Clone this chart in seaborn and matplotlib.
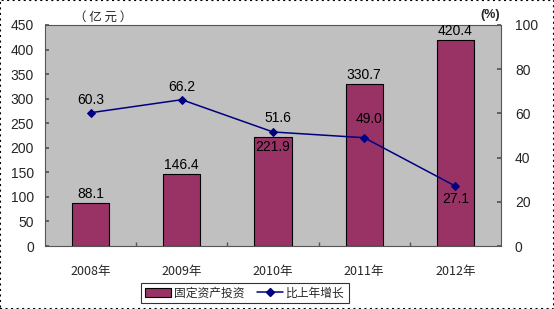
import matplotlib
matplotlib.use("Agg")
import matplotlib.pyplot as plt
import seaborn as sns
import pandas as pd
from matplotlib.lines import Line2D
from matplotlib.patches import Patch

years = ["2008年", "2009年", "2010年", "2011年", "2012年"]
invest = [88.1, 146.4, 221.9, 330.7, 420.4]
growth = [60.3, 66.2, 51.6, 49.0, 27.1]

sns.set_theme(style="white")
plt.rcParams['font.family'] = ['Liberation Sans', 'Noto Sans CJK SC', 'DejaVu Sans']

W, H = 554, 309
fig = plt.figure(figsize=(W/100, H/100), dpi=100)
ax = fig.add_axes([45/W, 1-246/H, 456/W, 221/H])
ax.set_facecolor("#C0C0C0")

df = pd.DataFrame({"year": years, "invest": invest})
sns.barplot(data=df, x="year", y="invest", ax=ax, color="#993366", width=0.41,
            edgecolor="black", linewidth=0.8, saturation=1)
ax.set_ylim(0, 450)
ax.set_xlim(-0.5, 4.5)
ax.set_yticks(range(0, 451, 50))
ax.set_xticks([0.5, 1.5, 2.5, 3.5], minor=True)
ax.set_xlabel("")
ax.set_ylabel("")
ax.tick_params(axis='y', labelsize=10, length=3, direction='in', color="#555555", pad=8, left=True)
ax.tick_params(axis='x', labelsize=9, length=0, pad=14)
ax.tick_params(axis='x', which='minor', length=3, direction='in', color="#555555", bottom=True)
for lab in ax.get_xticklabels():
    lab.set_family(['Noto Sans CJK SC'])
for s in ax.spines.values():
    s.set_color("#555555")
    s.set_linewidth(0.8)

# bar labels
for i, v in enumerate(invest):
    if i == 2:
        ax.text(i, v - 6, f"{v:.1f}", ha="center", va="top", fontsize=10, color="black")
    else:
        ax.text(i, v + 4, f"{v:.1f}", ha="center", va="bottom", fontsize=10, color="black")

ax2 = ax.twinx()
sns.lineplot(x=list(range(5)), y=growth, ax=ax2, color="#000080", marker="D",
             markersize=4, linewidth=1.1, markeredgecolor="#000080")
ax2.set_ylim(0, 100)
ax2.set_yticks(range(0, 101, 20))
ax2.tick_params(axis='y', labelsize=10, length=3, direction='in', color="#555555", pad=10, right=True)
ax2.set_xlim(-0.5, 4.5)
for s in ax2.spines.values():
    s.set_visible(False)

offs = [(0, 2.5, "center", "bottom"), (0, 2.5, "center", "bottom"), (0.05, 3, "center", "bottom"),
        (0.05, 5.5, "center", "bottom"), (0, -2.5, "center", "top")]
for i, v in enumerate(growth):
    dx, dy, ha, va = offs[i]
    ax2.text(i + dx, v + dy, f"{v:.1f}", ha=ha, va=va, fontsize=10, color="black")

fig.text(103/W, 1-17/H, "（ 亿 元 ）", ha="center", va="center", fontsize=9,
         family=['Noto Sans CJK SC'])
fig.text(490/W, 1-15/H, "(%)", ha="center", va="center", fontsize=9, fontweight="bold")

handles = [Patch(facecolor="#993366", edgecolor="black", linewidth=0.8),
           Line2D([0], [0], color="#000080", marker="D", markersize=4, linewidth=1.1)]
leg = fig.legend(handles, ["固定资产投资", "比上年增长"], loc="center",
                 bbox_to_anchor=(245/W, 1-293/H), ncol=2, frameon=True, fancybox=False,
                 prop={'family': 'Noto Sans CJK SC', 'size': 8.5}, handlelength=2.2,
                 handletextpad=0.3, columnspacing=1.0, borderpad=0.3)
leg.get_frame().set_edgecolor("black")
leg.get_frame().set_linewidth(0.8)

fig.patches.append(plt.Rectangle((0, 0), 1, 1, transform=fig.transFigure, fill=False,
                                 edgecolor="black", linewidth=1.5, linestyle=":"))
fig.savefig("out.png", dpi=100)
